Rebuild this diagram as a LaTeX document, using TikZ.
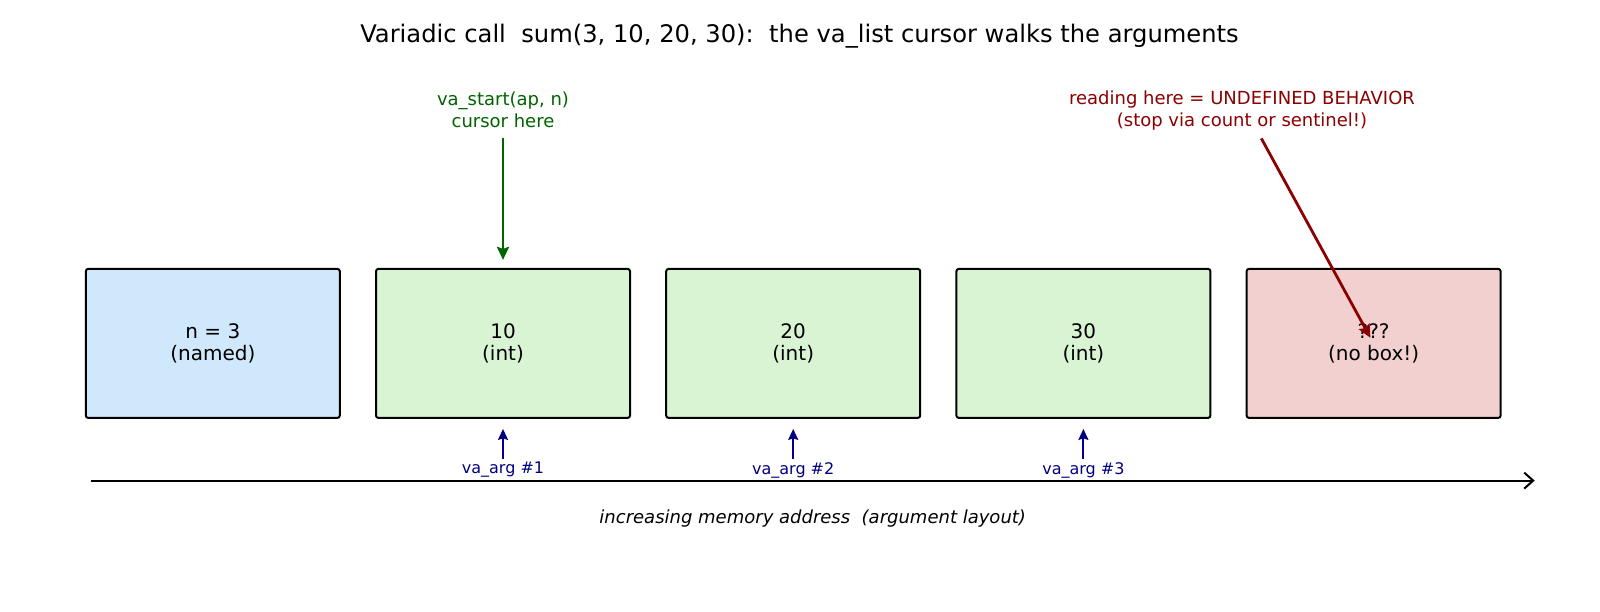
\documentclass[tikz,border=0pt]{standalone}
\usepackage{fontspec}
\setmainfont{DejaVu Sans}
\usetikzlibrary{arrows.meta,positioning}

\definecolor{namedfill}{RGB}{207,232,252}
\definecolor{argfill}{RGB}{217,244,211}
\definecolor{badfill}{RGB}{243,208,208}
\definecolor{cursorgreen}{RGB}{0,100,0}
\definecolor{ubred}{RGB}{139,0,0}
\definecolor{argnavy}{RGB}{0,0,128}

\begin{document}
\begin{tikzpicture}[
	x=0.5pt, y=-0.5pt,
	node distance=8mm and 17.1pt,
	cell/.style={rectangle, rounded corners=1.2pt, draw, line width=1pt, align=center, minimum width=127pt, minimum height=74.5pt, font=\fontsize{10}{10.9}\selectfont},
	note/.style={align=center, inner sep=0pt, font=\fontsize{9}{10.7}\selectfont},
	arglabel/.style={inner sep=0pt, text=argnavy, font=\fontsize{8}{9.6}\selectfont},
	cursor/.style={-{Stealth[length=6.5pt,width=6pt,inset=1pt]}, line width=1.4pt},
	advance/.style={-{Stealth[length=5.5pt,width=5pt,inset=0.8pt]}, line width=1pt, argnavy}
]
\useasboundingbox (0,0) rectangle (1600,611);

\node[font=\fontsize{12.1}{14}\selectfont] (title) at (799.5,36.5) {Variadic call\ \ sum(3, 10, 20, 30):\ \ the va\_list cursor walks the arguments};

% argument slots
\node[cell, fill=namedfill] (named) at (212.8,343.4) {n = 3\\(named)};
\node[cell, fill=argfill, right=of named] (arg1) {10\\(int)};
\node[cell, fill=argfill, right=of arg1] (arg2) {20\\(int)};
\node[cell, fill=argfill, right=of arg2] (arg3) {30\\(int)};
\node[cell, fill=badfill, right=of arg3] (beyond) {???\\(no box!)};

% va_start
\node[note, text=cursorgreen] (start) at (503,109.7) {va\_start(ap, n)\\cursor here};
\draw[cursor, cursorgreen, shorten <=5pt, shorten >=4pt] (start) -- (start |- arg1.north);

% reading past the end
\node[note, text=ubred] (ub) at (1242,110.7) {reading here = UNDEFINED BEHAVIOR\\(stop via count or sentinel!)};
\coordinate (ubtip) at (1370.4,337.8);
\draw[cursor, ubred, shorten <=4.5pt] ([xshift=7.5pt]ub.south) -- (ubtip);

% va_arg steps
\node[arglabel] (step1) at (arg1.south |- 0,470) {va\_arg \#1};
\node[arglabel] (step2) at (arg2.south |- 0,470) {va\_arg \#2};
\node[arglabel] (step3) at (arg3.south |- 0,470) {va\_arg \#3};
\draw[advance, shorten <=1.5pt, shorten >=5pt] (step1) -- (arg1);
\draw[advance, shorten <=1.5pt, shorten >=5pt] (step2) -- (arg2);
\draw[advance, shorten <=1.5pt, shorten >=5pt] (step3) -- (arg3);

% address axis
\coordinate (low) at (90.8,480.6);
\coordinate (high) at (1534.7,480.6);
\draw[-{Straight Barb[length=4.5pt,width=8pt]}, line width=1pt] (low) -- (high);
\node[font=\fontsize{9}{11}\selectfont\itshape] (axis) at (812.7,518.4) {increasing memory address\ \ (argument layout)};
\end{tikzpicture}
\end{document}
